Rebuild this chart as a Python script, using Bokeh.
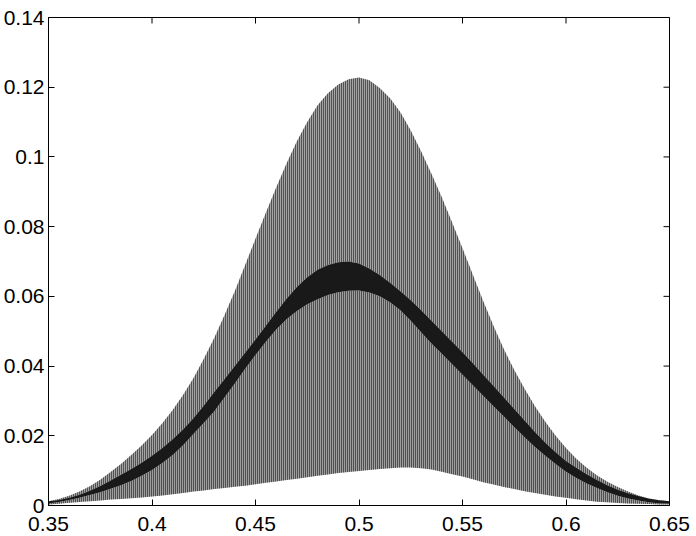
import math
from bokeh.plotting import figure
from bokeh.models import Range1d, FixedTicker, LinearAxis
from bokeh.embed import file_html
from bokeh.resources import INLINE

x_vals = [0.350, 0.355, 0.360, 0.365, 0.370, 0.375, 0.380, 0.385, 0.390, 0.395,
          0.400, 0.405, 0.410, 0.415, 0.420, 0.425, 0.430, 0.435, 0.440, 0.445,
          0.450, 0.455, 0.460, 0.465, 0.470, 0.475, 0.480, 0.485, 0.490, 0.495,
          0.500, 0.505, 0.510, 0.515, 0.520, 0.525, 0.530, 0.535, 0.540, 0.545,
          0.550, 0.555, 0.560, 0.565, 0.570, 0.575, 0.580, 0.585, 0.590, 0.595,
          0.600, 0.605, 0.610, 0.615, 0.620, 0.625, 0.630, 0.635, 0.640, 0.645,
          0.650]

# upper envelope of the oscillation (maxima)
upper_env = [0.0012, 0.0019, 0.0028, 0.0040, 0.0055, 0.0074, 0.0096, 0.0119, 0.0145, 0.0172,
             0.0202, 0.0236, 0.0274, 0.0317, 0.0365, 0.0420, 0.0480, 0.0546, 0.0615, 0.0690,
             0.0765, 0.0840, 0.0912, 0.0981, 0.1045, 0.1100, 0.1148, 0.1183, 0.1208, 0.1223,
             0.1228, 0.1220, 0.1198, 0.1168, 0.1128, 0.1076, 0.1016, 0.0952, 0.0884, 0.0812,
             0.0738, 0.0662, 0.0587, 0.0515, 0.0448, 0.0389, 0.0335, 0.0285, 0.0240, 0.0200,
             0.0165, 0.0134, 0.0108, 0.0086, 0.0068, 0.0053, 0.0040, 0.0029, 0.0020, 0.0014,
             0.0010]

# lower envelope of the oscillation (minima)
lower_env = [0.0003, 0.0005, 0.0008, 0.0010, 0.0012, 0.0014, 0.0017, 0.0019, 0.0021, 0.0023,
             0.0026, 0.0029, 0.0032, 0.0036, 0.0040, 0.0043, 0.0047, 0.0050, 0.0054, 0.0057,
             0.0061, 0.0065, 0.0069, 0.0073, 0.0077, 0.0081, 0.0085, 0.0089, 0.0093, 0.0096,
             0.0099, 0.0102, 0.0105, 0.0107, 0.0109, 0.0109, 0.0107, 0.0103, 0.0097, 0.0090,
             0.0083, 0.0075, 0.0067, 0.0060, 0.0053, 0.0047, 0.0041, 0.0036, 0.0031, 0.0026,
             0.0022, 0.0018, 0.0014, 0.0011, 0.0009, 0.0007, 0.0006, 0.0005, 0.0004, 0.0003,
             0.0003]

# dense (dark) band of the trace: its top and bottom edges
band_top = [0.0012, 0.0016, 0.0022, 0.0031, 0.0042, 0.0056, 0.0072, 0.0088, 0.0105, 0.0123,
            0.0143, 0.0165, 0.0190, 0.0218, 0.0250, 0.0286, 0.0325, 0.0362, 0.0400, 0.0438,
            0.0476, 0.0516, 0.0555, 0.0593, 0.0627, 0.0655, 0.0676, 0.0690, 0.0698, 0.0700,
            0.0694, 0.0680, 0.0661, 0.0639, 0.0615, 0.0589, 0.0560, 0.0530, 0.0500, 0.0470,
            0.0440, 0.0408, 0.0375, 0.0343, 0.0310, 0.0277, 0.0244, 0.0211, 0.0180, 0.0153,
            0.0128, 0.0108, 0.0090, 0.0073, 0.0058, 0.0045, 0.0035, 0.0027, 0.0020, 0.0015,
            0.0012]
band_bottom = [0.0006, 0.0010, 0.0016, 0.0022, 0.0030, 0.0038, 0.0048, 0.0058, 0.0070, 0.0085,
               0.0102, 0.0122, 0.0145, 0.0173, 0.0205, 0.0237, 0.0270, 0.0310, 0.0350, 0.0392,
               0.0432, 0.0470, 0.0505, 0.0534, 0.0558, 0.0577, 0.0592, 0.0604, 0.0612, 0.0616,
               0.0617, 0.0611, 0.0600, 0.0583, 0.0560, 0.0530, 0.0497, 0.0465, 0.0435, 0.0405,
               0.0375, 0.0345, 0.0315, 0.0285, 0.0255, 0.0225, 0.0196, 0.0168, 0.0143, 0.0119,
               0.0097, 0.0079, 0.0063, 0.0050, 0.0038, 0.0028, 0.0020, 0.0014, 0.0009, 0.0006,
               0.0005]

x_ticks = [0.35, 0.40, 0.45, 0.50, 0.55, 0.60, 0.65]
x_tick_labels = ["0.35", "0.4", "0.45", "0.5", "0.55", "0.6", "0.65"]
y_ticks = [0.0, 0.02, 0.04, 0.06, 0.08, 0.10, 0.12, 0.14]
y_tick_labels = ["0", "0.02", "0.04", "0.06", "0.08", "0.1", "0.12", "0.14"]

X_MIN, X_MAX = 0.35, 0.65
Y_MIN, Y_MAX = 0.0, 0.14

FONT = "Liberation Sans"
FS = "21px"

p = figure(width=696, height=536, output_backend="svg", toolbar_location=None,
           x_range=Range1d(X_MIN, X_MAX), y_range=Range1d(Y_MIN, Y_MAX),
           min_border_left=48, min_border_right=27, min_border_top=17, min_border_bottom=31,
           x_axis_location=None, y_axis_location=None)
p.grid.visible = False
p.background_fill_color = "white"
p.border_fill_color = "white"
p.outline_line_color = "black"
p.outline_line_width = 1

# lower part of the oscillation (below the dense band)
p.varea(x=x_vals, y1=lower_env, y2=band_bottom, fill_color="#9e9e9e",
        hatch_pattern="vertical_line", hatch_color="black", hatch_scale=2, hatch_weight=1)
# upper part of the oscillation (above the dense band)
p.varea(x=x_vals, y1=band_top, y2=upper_env, fill_color="#a4a4a4",
        hatch_pattern="vertical_line", hatch_color="black", hatch_scale=2, hatch_weight=1)
# dense band
p.varea(x=x_vals, y1=band_bottom, y2=band_top, fill_color="#080808", fill_alpha=0.93)

def make_axis(ticks, labels):
    ax = LinearAxis(ticker=FixedTicker(ticks=ticks))
    ax.major_label_overrides = {t: l for t, l in zip(ticks, labels)}
    ax.major_tick_in = 6
    ax.major_tick_out = 0
    ax.minor_tick_in = 0
    ax.minor_tick_out = 0
    ax.axis_line_color = "black"
    ax.major_tick_line_color = "black"
    ax.major_label_text_font = FONT
    ax.major_label_text_font_size = FS
    ax.major_label_text_color = "black"
    return ax

bottom = make_axis(x_ticks, x_tick_labels)
bottom.major_label_standoff = 11
left = make_axis(y_ticks, y_tick_labels)
left.major_label_standoff = 4
p.add_layout(bottom, "below")
p.add_layout(left, "left")

# inward tick marks on the top and right edges of the box (MATLAB "box on")
p.scatter(x=x_ticks, y=[Y_MAX] * len(x_ticks), marker="dash", size=12,
          angle=math.pi / 2, line_color="black", line_width=1)
p.scatter(x=[X_MAX] * len(y_ticks), y=y_ticks, marker="dash", size=12,
          line_color="black", line_width=1)

open("out.html", "w").write(file_html(p, INLINE))
